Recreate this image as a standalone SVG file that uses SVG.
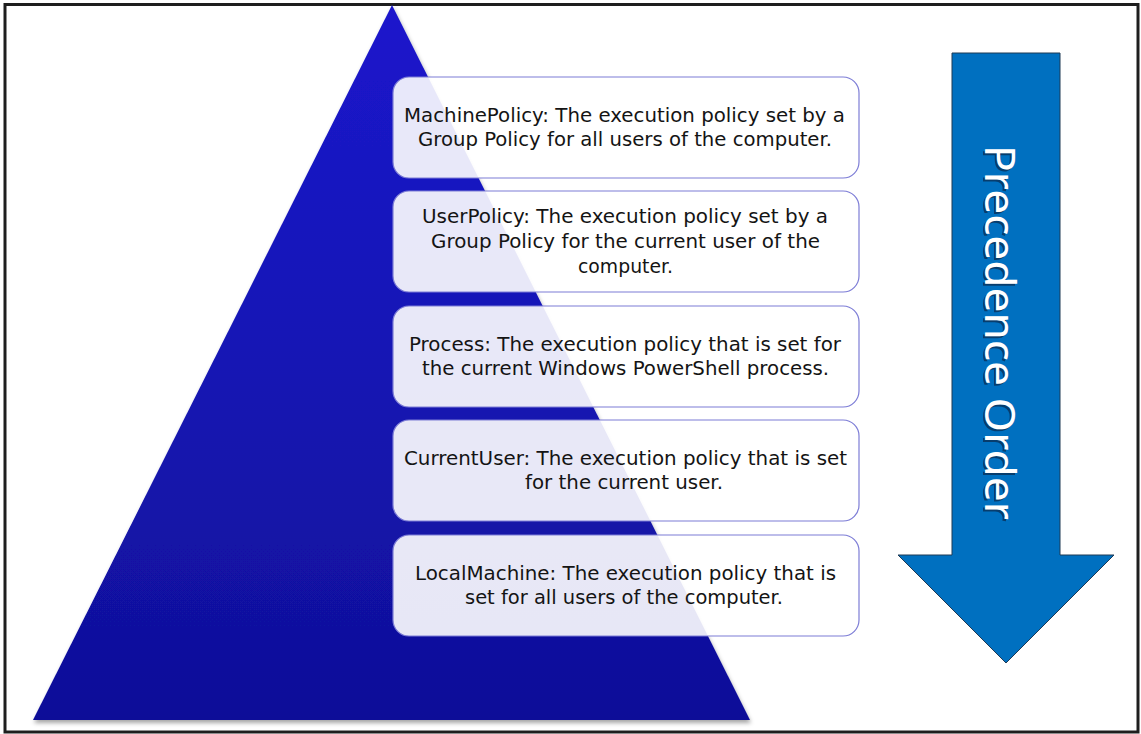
<svg xmlns="http://www.w3.org/2000/svg" width="1141" height="734" viewBox="0 0 1141 734">
  <style>
    .box { fill: #ffffff; fill-opacity: 0.9; stroke: #7d7dd6; stroke-width: 1.2; }
    .t { font-family: "DejaVu Sans", Verdana, sans-serif; font-size: 20px; fill: #141414; }
    .title { font-family: "Noto Sans", "Open Sans", sans-serif; font-size: 42px; fill: #ffffff; }
    .shadow { font-family: "Noto Sans", "Open Sans", sans-serif; font-size: 42px; fill: #0a2d52; opacity: 0.75; }
  </style>
  <defs>
    <linearGradient id="triGrad" x1="0" y1="0" x2="0" y2="1">
      <stop offset="0" stop-color="#1b19cc"/>
      <stop offset="0.5" stop-color="#1614b4"/>
      <stop offset="1" stop-color="#0f1098"/>
    </linearGradient>
    <filter id="shd" x="-10%" y="-10%" width="120%" height="120%">
      <feDropShadow dx="1" dy="3" stdDeviation="2" flood-color="#000000" flood-opacity="0.35"/>
    </filter>
  </defs>
  <rect x="0" y="0" width="1141" height="734" fill="#ffffff"/>
  <rect x="5" y="4.5" width="1133" height="727.5" fill="none" stroke="#1e1e1e" stroke-width="3"/>

  <g id="pyramid">
    <polygon points="392,5 750,720 33,720" fill="url(#triGrad)" filter="url(#shd)"/>
  </g>

  <g id="arrow">
    <polygon points="952,53 1060,53 1060,555 1114,555 1006,663 898,555 952,555" fill="#0070c0" stroke="#1f3a55" stroke-width="1"/>
    <text class="shadow" transform="translate(983,147) rotate(90)" textLength="375" lengthAdjust="spacingAndGlyphs">Precedence Order</text>
    <text class="title" transform="translate(985,145) rotate(90)" textLength="375" lengthAdjust="spacingAndGlyphs">Precedence Order</text>
  </g>

  <g id="node-machinepolicy">
    <rect class="box" x="393" y="77" width="466" height="101" rx="16"/>
    <text class="t" x="404" y="122" textLength="441" lengthAdjust="spacingAndGlyphs">MachinePolicy:  The execution policy set by a</text>
    <text class="t" x="418" y="146" textLength="414" lengthAdjust="spacingAndGlyphs">Group  Policy for all users of the computer.</text>
  </g>

  <g id="node-userpolicy">
    <rect class="box" x="393" y="191" width="466" height="101" rx="16"/>
    <text class="t" x="422" y="223" textLength="406" lengthAdjust="spacingAndGlyphs">UserPolicy: The execution policy set by a</text>
    <text class="t" x="431" y="248" textLength="389" lengthAdjust="spacingAndGlyphs">Group  Policy for the current user of the</text>
    <text class="t" x="578" y="273" textLength="95" lengthAdjust="spacingAndGlyphs">computer.</text>
  </g>

  <g id="node-process">
    <rect class="box" x="393" y="306" width="466" height="101" rx="16"/>
    <text class="t" x="409" y="351" textLength="432" lengthAdjust="spacingAndGlyphs">Process: The execution policy that is set for</text>
    <text class="t" x="422" y="375" textLength="407" lengthAdjust="spacingAndGlyphs">the current Windows PowerShell process.</text>
  </g>

  <g id="node-currentuser">
    <rect class="box" x="393" y="420" width="466" height="101" rx="16"/>
    <text class="t" x="404" y="465" textLength="443" lengthAdjust="spacingAndGlyphs">CurrentUser:  The execution policy that is set</text>
    <text class="t" x="525" y="489" textLength="198" lengthAdjust="spacingAndGlyphs">for the current user.</text>
  </g>

  <g id="node-localmachine">
    <rect class="box" x="393" y="535" width="466" height="101" rx="16"/>
    <text class="t" x="415" y="580" textLength="421" lengthAdjust="spacingAndGlyphs">LocalMachine:  The execution policy that is</text>
    <text class="t" x="465" y="604" textLength="318" lengthAdjust="spacingAndGlyphs">set for all users of the computer.</text>
  </g>

  <g id="connectors"></g>
</svg>
